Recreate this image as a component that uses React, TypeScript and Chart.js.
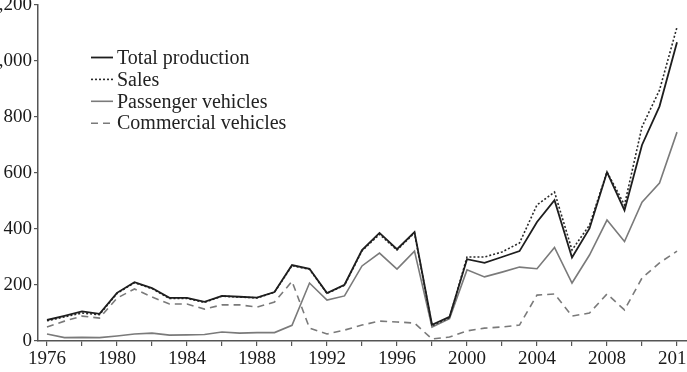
import React, { useEffect, useRef } from "react";
import { Chart, registerables } from "chart.js";

Chart.register(...registerables);

const years = [
  1976, 1977, 1978, 1979, 1980, 1981, 1982, 1983, 1984, 1985,
  1986, 1987, 1988, 1989, 1990, 1991, 1992, 1993, 1994, 1995,
  1996, 1997, 1998, 1999, 2000, 2001, 2002, 2003, 2004, 2005,
  2006, 2007, 2008, 2009, 2010, 2011, 2012,
];

const totalProduction = [
  75, 90, 106, 97, 172, 210, 189, 154, 154, 140,
  161, 158, 155, 175, 271, 258, 171, 201, 325, 386,
  328, 389, 58, 86, 292, 279, 300, 321, 425, 503,
  298, 402, 603, 467, 700, 838, 1067,
];

const sales = [
  72, 86, 100, 94, 170, 208, 187, 152, 152, 138,
  160, 157, 154, 174, 269, 256, 170, 199, 322, 381,
  325, 386, 55, 83, 300, 300, 318, 350, 486, 532,
  325, 414, 604, 486, 765, 896, 1121,
];

const passengerVehicles = [
  25, 12, 13, 12, 18, 25, 28, 21, 22, 23,
  32, 28, 30, 30, 56, 207, 146, 161, 268, 314,
  257, 321, 50, 80, 254, 229, 246, 264, 258, 334,
  207, 307, 432, 355, 496, 564, 746,
];

const commercialVehicles = [
  50, 71, 89, 82, 153, 186, 157, 132, 132, 114,
  129, 129, 121, 139, 213, 46, 25, 39, 57, 71,
  68, 64, 7, 14, 36, 46, 50, 57, 164, 168,
  89, 100, 168, 111, 225, 279, 321,
];

const seriesLabels = ["Total production", "Sales", "Passenger vehicles", "Commercial vehicles"];

const xTickYears = [
  1976, 1978, 1980, 1982, 1984, 1986, 1988, 1990, 1992, 1994,
  1996, 1998, 2000, 2002, 2004, 2006, 2008, 2010, 2012,
];
const xLabelYears = [1976, 1980, 1984, 1988, 1992, 1996, 2000, 2004, 2008, 2012];
const yTicks = [0, 200, 400, 600, 800, 1000, 1200];

const OFFSET_X = 40;
const OFFSET_Y = 20;
const CANVAS_W = 767;
const CANVAS_H = 392;
const FONT = "'Liberation Serif', 'Times New Roman', serif";

const toPoints = (vals: number[]) => years.map((yr, i) => ({ x: yr, y: vals[i] }));

const insideLegend = {
  id: "insideLegend",
  afterDraw(chart: any) {
    const ctx = chart.ctx;
    const x0 = 91 + OFFSET_X;
    const x1 = 113 + OFFSET_X;
    const tx = 117 + OFFSET_X;
    const top = 57.5 + OFFSET_Y;
    const gap = 21.9;
    ctx.save();
    chart.data.datasets.forEach((ds: any, i: number) => {
      const y = top + i * gap;
      ctx.beginPath();
      ctx.strokeStyle = ds.borderColor;
      ctx.lineWidth = ds.borderWidth;
      ctx.setLineDash(ds.borderDash || []);
      ctx.moveTo(x0, y);
      ctx.lineTo(x1, y);
      ctx.stroke();
      ctx.setLineDash([]);
      ctx.fillStyle = "#222";
      ctx.font = `20px ${FONT}`;
      ctx.textBaseline = "middle";
      ctx.textAlign = "left";
      ctx.fillText(ds.label, tx, y + 1);
    });
    ctx.restore();
  },
};

export default function App() {
  const ref = useRef<HTMLCanvasElement | null>(null);

  useEffect(() => {
    if (!ref.current) return;
    const chart = new Chart(ref.current, {
      type: "line",
      data: {
        datasets: [
          {
            label: seriesLabels[0],
            data: toPoints(totalProduction),
            borderColor: "#1e1e1e",
            borderWidth: 1.8,
            pointRadius: 0,
            tension: 0,
          },
          {
            label: seriesLabels[1],
            data: toPoints(sales),
            borderColor: "#2a2a2a",
            borderWidth: 1.6,
            borderDash: [2, 2],
            pointRadius: 0,
            tension: 0,
          },
          {
            label: seriesLabels[2],
            data: toPoints(passengerVehicles),
            borderColor: "#7a7a7a",
            borderWidth: 1.6,
            pointRadius: 0,
            tension: 0,
          },
          {
            label: seriesLabels[3],
            data: toPoints(commercialVehicles),
            borderColor: "#7a7a7a",
            borderWidth: 1.6,
            borderDash: [7, 5],
            pointRadius: 0,
            tension: 0,
          },
        ],
      },
      options: {
        animation: false,
        responsive: false,
        maintainAspectRatio: false,
        layout: { padding: { left: 0, top: 25, right: 20, bottom: 0 } },
        plugins: {
          legend: { display: false },
          tooltip: { enabled: false },
        },
        scales: {
          x: {
            type: "linear",
            min: 1975.486,
            max: 2013.714,
            afterBuildTicks: (scale: any) => {
              scale.ticks = xTickYears.map((v) => ({ value: v }));
            },
            afterFit: (scale: any) => {
              scale.height = CANVAS_H - 361;
            },
            grid: {
              drawOnChartArea: false,
              drawTicks: true,
              tickLength: 5,
              color: "#555",
              lineWidth: 1.2,
            },
            border: { display: true, color: "#555", width: 1.5 },
            ticks: {
              autoSkip: false,
              maxRotation: 0,
              padding: 2,
              color: "#1a1a1a",
              font: { family: FONT, size: 19 },
              callback: (v: any) => (xLabelYears.includes(Number(v)) ? String(v) : ""),
            },
          },
          y: {
            min: 0,
            max: 1200,
            afterBuildTicks: (scale: any) => {
              scale.ticks = yTicks.map((v) => ({ value: v }));
            },
            afterFit: (scale: any) => {
              scale.width = 38 + OFFSET_X;
            },
            grid: {
              drawOnChartArea: false,
              drawTicks: true,
              tickLength: 4,
              color: "#555",
              lineWidth: 1.2,
            },
            border: { display: true, color: "#555", width: 1.5 },
            ticks: {
              padding: 2,
              color: "#1a1a1a",
              font: { family: FONT, size: 19 },
              callback: (v: any) => Number(v).toLocaleString("en-US"),
            },
          },
        },
      },
      plugins: [insideLegend],
    });
    return () => chart.destroy();
  }, []);

  return (
    <div
      style={{
        position: "fixed",
        left: 0,
        top: 0,
        width: 687,
        height: 372,
        overflow: "hidden",
        background: "#fff",
      }}
    >
      <canvas
        ref={ref}
        width={CANVAS_W}
        height={CANVAS_H}
        style={{
          position: "absolute",
          left: -OFFSET_X,
          top: -OFFSET_Y,
          width: CANVAS_W,
          height: CANVAS_H,
        }}
      />
    </div>
  );
}
